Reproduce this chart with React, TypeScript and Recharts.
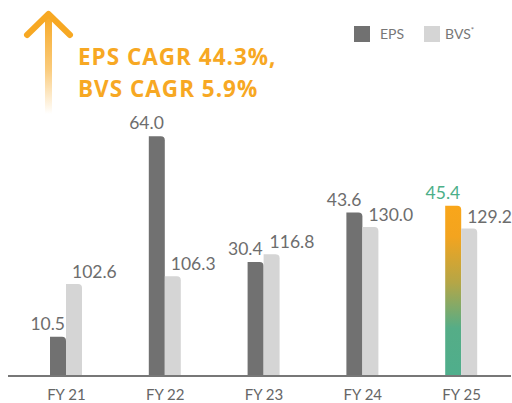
import { BarChart, Bar, XAxis, YAxis, Legend, LabelList, Cell } from 'recharts';

const YEARS = ['FY 21', 'FY 22', 'FY 23', 'FY 24', 'FY 25'];
const EPS = [10.5, 64.0, 30.4, 43.6, 45.4];
const BVS = [102.6, 106.3, 116.8, 130.0, 129.2];
const TITLE_LINES = ['EPS CAGR 44.3%,', 'BVS CAGR 5.9%'];

const FONT = 'Lato, "Open Sans", sans-serif';
const TITLE_FONT = '"Open Sans", Lato, sans-serif';
const EPS_COLOR = '#717171';
const BVS_COLOR = '#d5d5d5';
const ORANGE = '#f7a823';
const GREEN = '#4caf88';

const data = YEARS.map((year, i) => ({ year, eps: EPS[i], bvs: BVS[i] }));

const EpsLabel = (props: any) => {
  const { x, y, width, value, index } = props;
  const last = index === YEARS.length - 1;
  return (
    <text
      x={Number(x) + Number(width) - 1}
      y={Number(y) - 7}
      textAnchor="end"
      fill={last ? GREEN : '#6d6d6d'}
      fontSize={17.5}
      fontFamily={FONT}
    >
      {Number(value).toFixed(1)}
    </text>
  );
};

const BvsLabel = (props: any) => {
  const { x, y, value } = props;
  return (
    <text x={Number(x) + 6} y={Number(y) - 6} textAnchor="start" fill="#6d6d6d" fontSize={17.5} fontFamily={FONT}>
      {Number(value).toFixed(1)}
    </text>
  );
};

const LegendBox = () => (
  <div style={{ display: 'flex', alignItems: 'center', fontFamily: FONT, fontSize: 14, color: '#777' }}>
    <span style={{ width: 16, height: 16, background: EPS_COLOR, display: 'inline-block' }} />
    <span style={{ marginLeft: 10 }}>EPS</span>
    <span style={{ width: 16, height: 16, background: BVS_COLOR, display: 'inline-block', marginLeft: 20 }} />
    <span style={{ marginLeft: 5 }}>
      BVS<sup style={{ fontSize: 8 }}>*</sup>
    </span>
  </div>
);

export default function App() {
  return (
    <div style={{ position: 'absolute', left: 0, top: 0, width: 512, height: 403, background: '#fff' }}>
      <BarChart
        width={512}
        height={403}
        data={data}
        margin={{ top: 20, right: 1, bottom: 0, left: 8 }}
        barGap={0}
      >
        <defs>
          <linearGradient id="fy25" x1="0" y1="0" x2="0" y2="1">
            <stop offset="0%" stopColor="#f9a61a" />
            <stop offset="18%" stopColor="#f3a41f" />
            <stop offset="45%" stopColor="#b5a646" />
            <stop offset="72%" stopColor="#55ad87" />
            <stop offset="100%" stopColor="#4fae8c" />
          </linearGradient>
        </defs>
        <XAxis
          dataKey="year"
          height={27}
          padding={{ left: 9, right: 0 }}
          tickLine={false}
          axisLine={{ stroke: '#777', strokeWidth: 2 }}
          tickMargin={7}
          tick={{ fontSize: 15, fill: '#666', fontFamily: FONT }}
        />
        <YAxis yAxisId="eps" hide domain={[0, 95]} allowDataOverflow />
        <YAxis yAxisId="bvs" hide domain={[58.3, 229.5]} allowDataOverflow />
        <Legend
          verticalAlign="middle"
          align="center"
          layout="horizontal"
          content={LegendBox}
          wrapperStyle={{ top: 25, left: 354, width: 'auto', height: 16 }}
        />
        <Bar yAxisId="eps" dataKey="eps" name="EPS" fill={EPS_COLOR} barSize={16} radius={[0, 4, 0, 0]} isAnimationActive={false}>
          {data.map((d, i) => (
            <Cell key={d.year} fill={i === data.length - 1 ? 'url(#fy25)' : EPS_COLOR} />
          ))}
          <LabelList dataKey="eps" content={EpsLabel} />
        </Bar>
        <Bar yAxisId="bvs" dataKey="bvs" name="BVS*" fill={BVS_COLOR} barSize={16} radius={[0, 4, 0, 0]} isAnimationActive={false}>
          <LabelList dataKey="bvs" content={BvsLabel} />
        </Bar>
      </BarChart>
      <svg width={300} height={120} style={{ position: 'absolute', left: 0, top: 0, pointerEvents: 'none' }}>
        <defs>
          <linearGradient id="arrowFade" x1="0" y1="0" x2="0" y2="1">
            <stop offset="0%" stopColor={ORANGE} stopOpacity={1} />
            <stop offset="55%" stopColor={ORANGE} stopOpacity={0.6} />
            <stop offset="100%" stopColor={ORANGE} stopOpacity={0} />
          </linearGradient>
        </defs>
        <rect x={45} y={14} width={7} height={100} fill="url(#arrowFade)" />
        <polyline
          points="27,35 48.5,14 70,35"
          fill="none"
          stroke={ORANGE}
          strokeWidth={6}
          strokeLinecap="round"
          strokeLinejoin="round"
        />
        {TITLE_LINES.map((t, i) => (
          <text
            key={t}
            x={78}
            y={65 + i * 32}
            fill={ORANGE}
            fontSize={22.5}
            fontWeight={700}
            letterSpacing={1}
            fontFamily={TITLE_FONT}
          >
            {t}
          </text>
        ))}
      </svg>
    </div>
  );
}
